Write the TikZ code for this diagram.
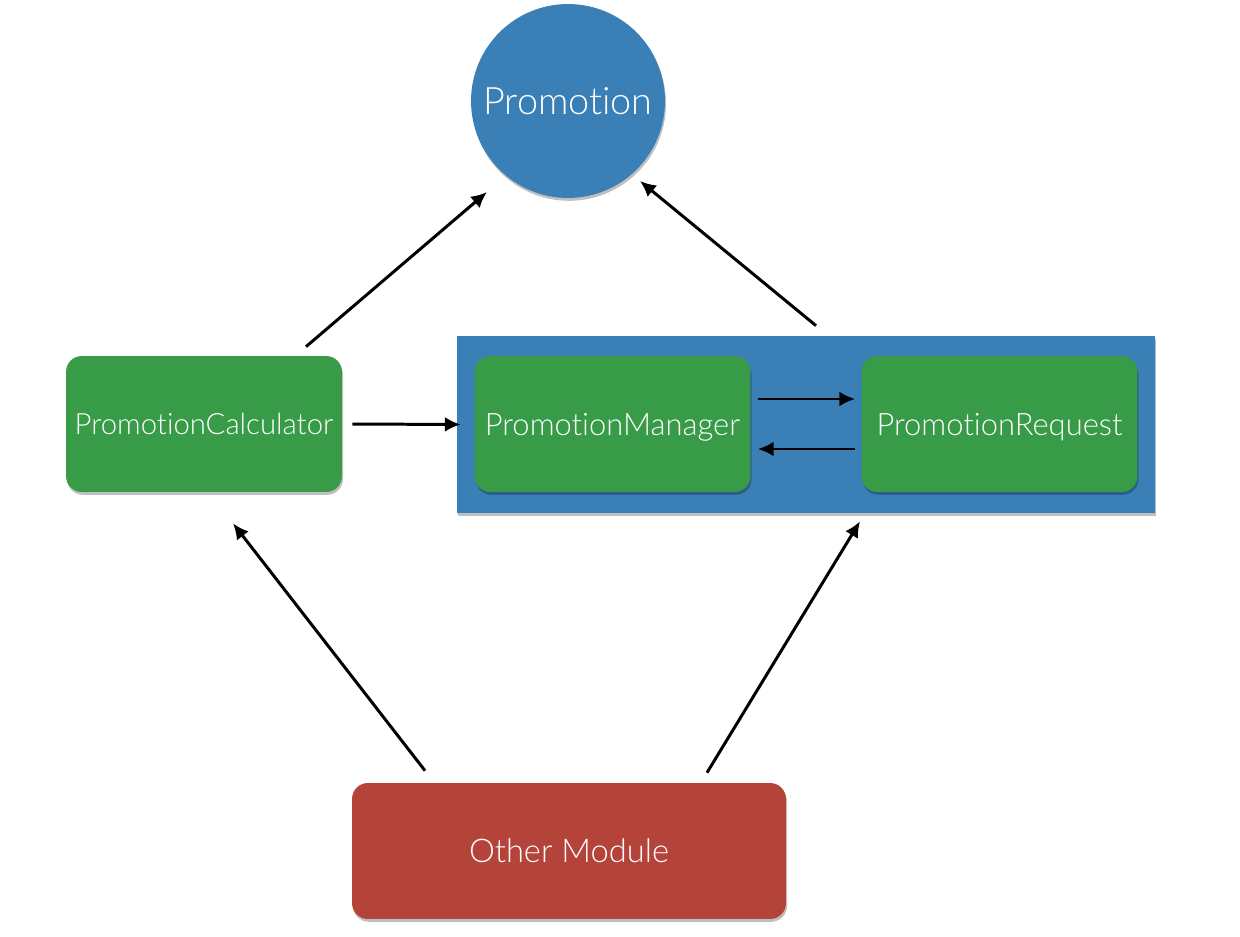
\documentclass[tikz,border=0pt]{standalone}
\usepackage{fontspec}
\setmainfont{Lato Light}[Ligatures=NoCommon]
\usetikzlibrary{arrows.meta,calc,shadows}
\definecolor{pblue}{HTML}{3A80B6}
\definecolor{pgreen}{HTML}{379B47}
\definecolor{pred}{HTML}{B4443A}
\begin{document}
\begin{tikzpicture}[x=0.02cm,y=-0.02cm,
  shd/.style={drop shadow={shadow xshift=0.6pt,shadow yshift=-1.6pt,opacity=0.25,fill=black}},
  box/.style={rounded corners=9pt,minimum width=5.52cm,minimum height=2.72cm,text=white,
     inner sep=0pt,text depth=0pt,shd},
  greenbox/.style={box,fill=pgreen},
  arr/.style={-{Latex[length=9pt,width=8.5pt]},line width=1.7pt,black}]
\useasboundingbox (0,0) rectangle (1240,936);
\node[circle,fill=pblue,minimum size=3.88cm,text=white,font=\fontsize{21.5}{26}\selectfont,
  text height=15.5pt,text depth=0pt,shd] (promo) at (568,101) {Promotion};
\node[greenbox,font=\fontsize{16.7}{20}\selectfont,text height=12pt] (calc) at (204,424) {PromotionCalculator};
\node[fill=pblue,minimum width=13.96cm,minimum height=3.54cm,inner sep=0pt,shd] (cont) at (806,424.5) {};
\node[greenbox,font=\fontsize{17.6}{21}\selectfont,text height=12.7pt] (pm) at (612.5,424) {PromotionManager};
\node[greenbox,font=\fontsize{17.6}{21}\selectfont,text height=12.7pt] (pr) at (999.5,424) {PromotionRequest};
\node[box,fill=pred,minimum width=8.68cm,font=\fontsize{18.6}{22}\selectfont,text height=13.4pt] (om) at (569,851) {Other Module};
\draw[arr] ($(calc.north)+(102,-9)$) -- ($(promo.center)+(-81,91)$);
\draw[arr] ($(cont.north)+(10,-10)$) -- ($(promo.center)+(72,80)$);
\draw[arr] ($(calc.east)+(10,0)$) -- ($(cont.west)+(4,0)$);
\draw[arr] ($(pm.east)+(7,-25)$) -- ($(pr.west)+(-6,-25)$);
\draw[arr] ($(pr.west)+(-6,25)$) -- ($(pm.east)+(7,25)$);
\draw[arr] ($(om.north)+(-144,-12)$) -- ($(calc.south)+(29,31)$);
\draw[arr] ($(om.north)+(138,-10)$) -- ($(cont.south)+(54,8)$);
\end{tikzpicture}
\end{document}
